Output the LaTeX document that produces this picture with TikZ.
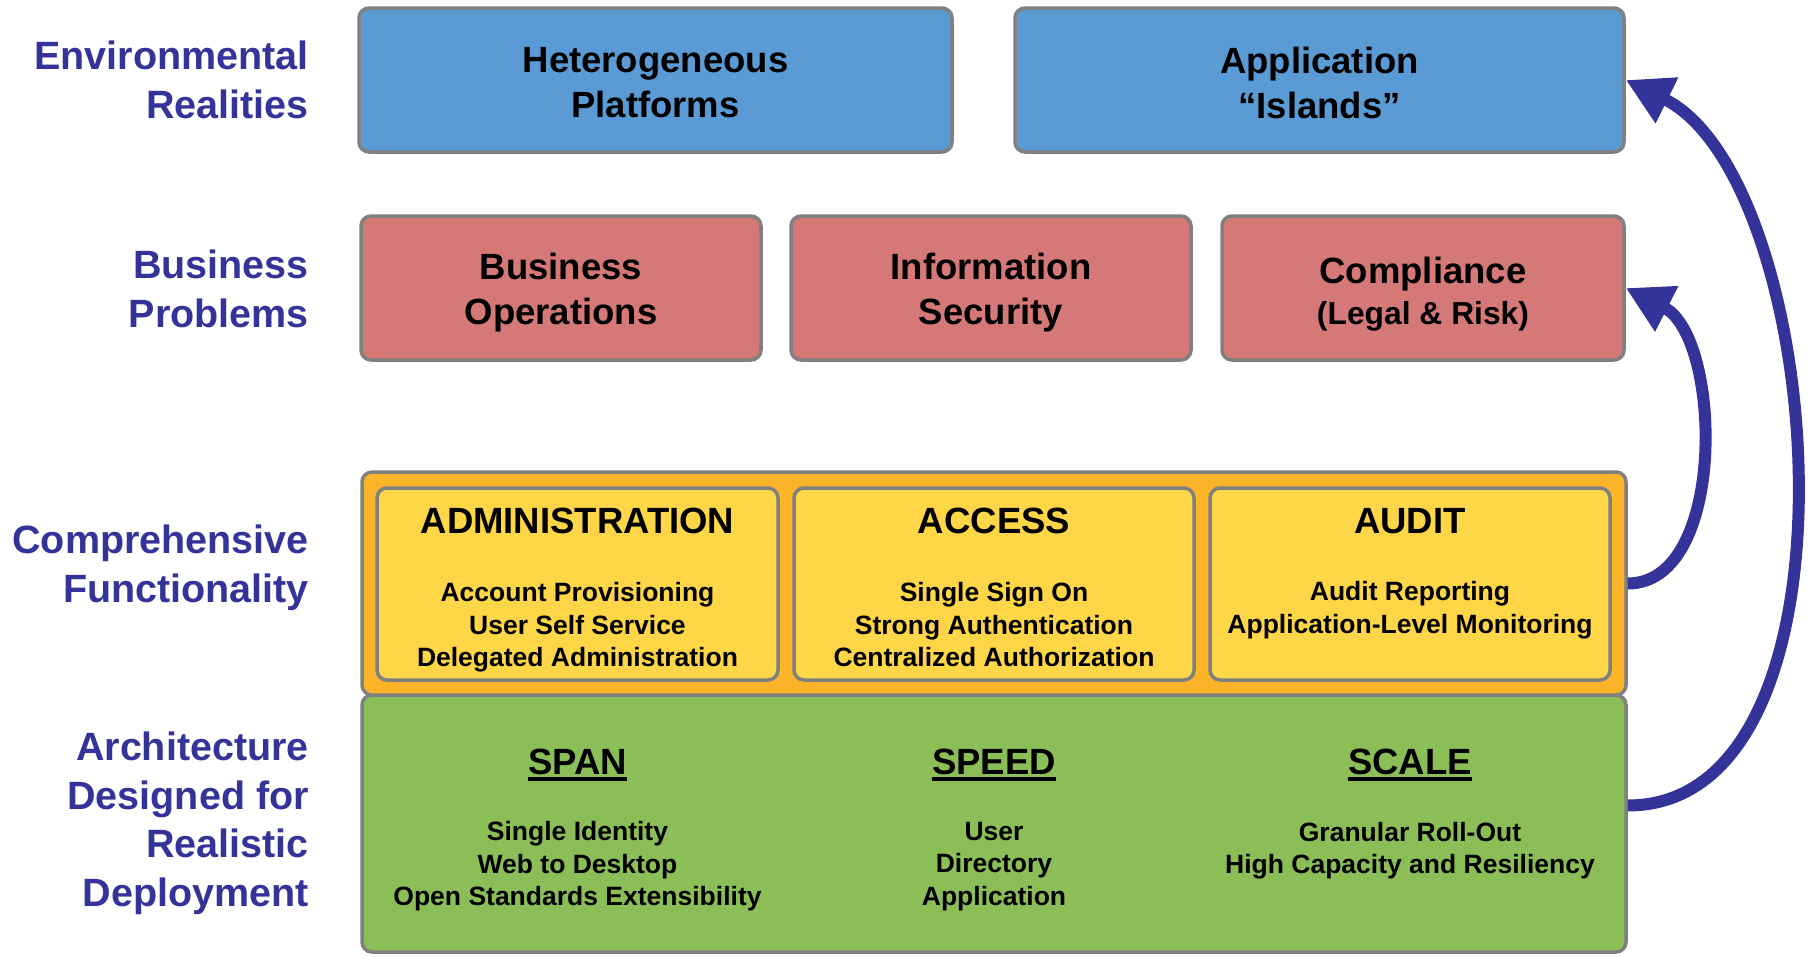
\documentclass[tikz,border=0pt]{standalone}
\usepackage{fontspec}
\setmainfont{Liberation Sans}
\usetikzlibrary{arrows.meta}
\definecolor{bluefill}{RGB}{91,155,213}
\definecolor{redfill}{RGB}{212,121,119}
\definecolor{orangefill}{RGB}{251,179,40}
\definecolor{yellowfill}{RGB}{255,214,71}
\definecolor{greenfill}{RGB}{139,190,87}
\definecolor{navy}{RGB}{51,51,153}
\definecolor{bordergray}{RGB}{128,128,128}
\begin{document}
\begin{tikzpicture}[x=1pt,y=-1pt,
  box/.style={draw=bordergray, line width=3.5pt, rounded corners=10pt, inner sep=0pt},
  bigtext/.style={inner sep=0pt, align=center, text=black, font=\bfseries\fontsize{36.5}{45}\selectfont},
  sidelabel/.style={anchor=east, align=right, text=navy, inner sep=0pt, font=\bfseries\fontsize{39.5}{48.5}\selectfont},
  coltitle/.style={inner sep=0pt, font=\bfseries\fontsize{36.5}{45}\selectfont},
  colitems/.style={inner sep=0pt, align=center, font=\bfseries\fontsize{26.5}{32.5}\selectfont},
  ulined/.style={line width=3.2pt, black},
  bigarrow/.style={draw=navy, line width=12pt, -{Triangle[length=46pt,width=48pt]}}
]
\useasboundingbox (0,0) rectangle (1810,956);

% side labels
\node[sidelabel] (lenv) at (309,80) {Environmental\\Realities};
\node[sidelabel] (lbus) at (309,289) {Business\\Problems};
\node[sidelabel] (lfun) at (309,568) {Comprehensive\\Functionality};
\node[sidelabel] (larc) at (309,823.5) {Architecture\\Designed for\\Realistic\\Deployment};

% top row
\node[box, fill=bluefill, minimum width=593pt, minimum height=144pt] (het) at (655.5,80) {};
\node[box, fill=bluefill, minimum width=609pt, minimum height=144pt] (app) at (1319.5,80) {};
\node[bigtext] (hett) at (655.5,83) {Heterogeneous\\Platforms};
\node[bigtext] (appt) at (1319.5,83) {Application\\“Islands”};

% second row
\node[box, fill=redfill, minimum width=400pt, minimum height=144pt] (busops) at (561,288) {};
\node[box, fill=redfill, minimum width=400pt, minimum height=144pt] (infosec) at (991,288) {};
\node[box, fill=redfill, minimum width=402pt, minimum height=144pt] (comp) at (1423,288) {};
\node[bigtext] (busopst) at (561,293) {Business\\Operations};
\node[bigtext] (infosect) at (991,293) {Information\\Security};
\node[bigtext, font=\bfseries\fontsize{36.5}{41}\selectfont] (compt) at (1423,294) {Compliance\\{\fontsize{31.8}{41}\selectfont (Legal \& Risk)}};

% green and orange layers
\node[box, fill=greenfill, minimum width=1264pt, minimum height=257pt] (green) at (994,823.5) {};
\node[box, fill=orangefill, minimum width=1264pt, minimum height=223pt] (orange) at (994,583.5) {};

% inner boxes
\node[box, fill=yellowfill, minimum width=401pt, minimum height=192pt] (admin) at (577.5,584) {};
\node[box, fill=yellowfill, minimum width=400pt, minimum height=192pt] (access) at (994,584) {};
\node[box, fill=yellowfill, minimum width=400pt, minimum height=192pt] (audit) at (1410,584) {};

\node[coltitle] (admint) at (577.5,521) {ADMINISTRATION};
\node[colitems] (admini) at (577.5,627.5) {Account Provisioning\\User Self Service\\Delegated Administration\vphantom{g}};
\node[coltitle] (accesst) at (994,521) {ACCESS};
\node[colitems] (accessi) at (994,627.5) {Single Sign On\\Strong Authentication\\Centralized Authorization\vphantom{g}};
\node[coltitle] (auditt) at (1410,521) {AUDIT};
\node[colitems] (auditi) at (1410,610) {Audit Reporting\\Application-Level Monitoring\vphantom{g}};

% green columns
\node[coltitle, anchor=base] (spant) at (577.5,774) {SPAN};
\node[coltitle, anchor=base] (speedt) at (994,774) {SPEED};
\node[coltitle, anchor=base] (scalet) at (1410,774) {SCALE};
\draw[ulined] ([yshift=-5pt]spant.base west) -- ([yshift=-5pt]spant.base east);
\draw[ulined] ([yshift=-5pt]speedt.base west) -- ([yshift=-5pt]speedt.base east);
\draw[ulined] ([yshift=-5pt]scalet.base west) -- ([yshift=-5pt]scalet.base east);
\node[colitems] (spani) at (577.5,866.5) {Single Identity\\Web to Desktop\\Open Standards Extensibility\vphantom{g}};
\node[colitems] (speedi) at (994,866.5) {User\\Directory\\Application\vphantom{g}};
\node[colitems] (scalei) at (1410,850.5) {Granular Roll-Out\\High Capacity and Resiliency\vphantom{g}};

% arrows
\draw[bigarrow] (orange.east) .. controls +(100,0) and +(96,49) .. (comp.east);
\draw[bigarrow] ([yshift=18pt]green.east) .. controls +(246,0) and +(200,99) .. (app.east);
\end{tikzpicture}
\end{document}
